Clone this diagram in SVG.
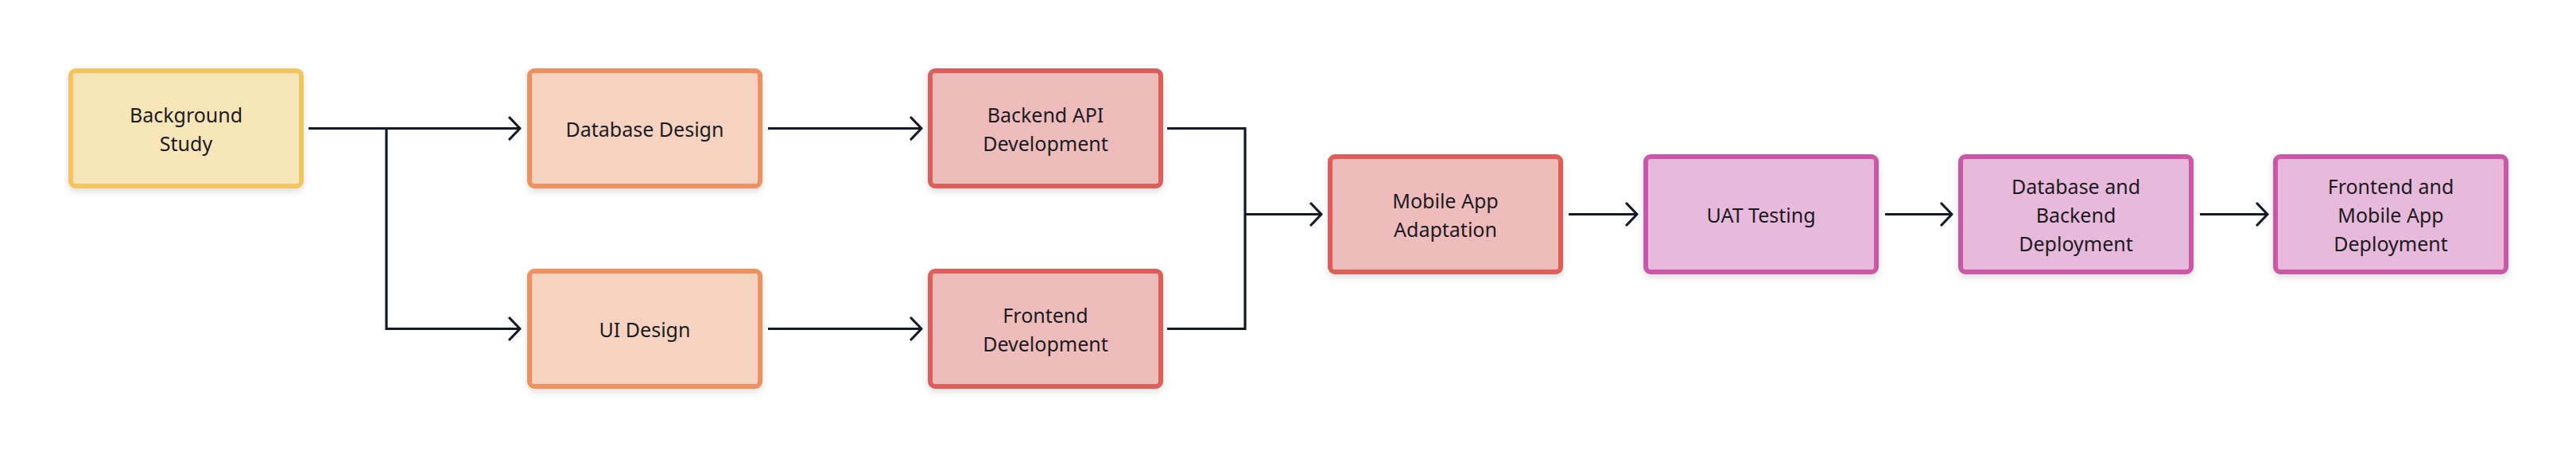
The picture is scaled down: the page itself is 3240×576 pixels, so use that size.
<svg xmlns="http://www.w3.org/2000/svg" width="3240" height="576" viewBox="0 0 3240 576">
<style>
.node rect{stroke-width:6;filter:url(#sh)}
.yellow rect{fill:#F9E6B8;stroke:#F3C55E}
.orange rect{fill:#F6D3C0;stroke:#EE905F}
.red rect{fill:#EFBCBC;stroke:#DE5F5A}
.pink rect{fill:#E7B9DB;stroke:#CB59A7}
.node text{font-family:"Noto Sans","Open Sans","Liberation Sans",sans-serif;font-size:25px;fill:#1B1B1F;text-anchor:middle}
#connectors path{fill:none;stroke:#131A26;stroke-width:3.2}
#connectors path.head{stroke-linecap:round;stroke-linejoin:round}
</style>
<defs>
<filter id="sh" x="-10%" y="-10%" width="120%" height="130%">
<feDropShadow dx="0" dy="4" stdDeviation="4" flood-color="#000" flood-opacity="0.12"/>
</filter>
</defs>
<rect width="3240" height="576" fill="#FFFFFF"/>
<g id="connectors">
<path d="M388 161.5H654M486 161.5V413.5H654"/>
<path class="head" d="M641 148L654 161.5L641 175M641 400L654 413.5L641 427"/>
<path d="M966 161.5H1159M966 413.5H1159"/>
<path class="head" d="M1146 148L1159 161.5L1146 175M1146 400L1159 413.5L1146 427"/>
<path d="M1468 161.5H1566V413.5H1468M1566 269.5H1662"/>
<path class="head" d="M1649 256L1662 269.5L1649 283"/>
<path d="M1973 269.5H2059M2371 269.5H2455M2767 269.5H2852"/>
<path class="head" d="M2046 256L2059 269.5L2046 283M2442 256L2455 269.5L2442 283M2839 256L2852 269.5L2839 283"/>
</g>
<g id="node-background-study" class="node yellow">
<rect x="89" y="89" width="290" height="145" rx="6"/>
<text x="234" y="153.5">Background</text>
<text x="234" y="189.5">Study</text>
</g>
<g id="node-database-design" class="node orange">
<rect x="666" y="89" width="290" height="145" rx="6"/>
<text x="811" y="171.5">Database Design</text>
</g>
<g id="node-ui-design" class="node orange">
<rect x="666" y="341" width="290" height="145" rx="6"/>
<text x="811" y="423.5">UI Design</text>
</g>
<g id="node-backend-api" class="node red">
<rect x="1170" y="89" width="290" height="145" rx="6"/>
<text x="1315" y="153.5">Backend API</text>
<text x="1315" y="189.5">Development</text>
</g>
<g id="node-frontend-dev" class="node red">
<rect x="1170" y="341" width="290" height="145" rx="6"/>
<text x="1315" y="405.5">Frontend</text>
<text x="1315" y="441.5">Development</text>
</g>
<g id="node-mobile-app" class="node red">
<rect x="1673" y="197" width="290" height="145" rx="6"/>
<text x="1818" y="261.5">Mobile App</text>
<text x="1818" y="297.5">Adaptation</text>
</g>
<g id="node-uat" class="node pink">
<rect x="2070" y="197" width="290" height="145" rx="6"/>
<text x="2215" y="279.5">UAT Testing</text>
</g>
<g id="node-db-backend-deploy" class="node pink">
<rect x="2466" y="197" width="290" height="145" rx="6"/>
<text x="2611" y="243.5">Database and</text>
<text x="2611" y="279.5">Backend</text>
<text x="2611" y="315.5">Deployment</text>
</g>
<g id="node-fe-mobile-deploy" class="node pink">
<rect x="2862" y="197" width="290" height="145" rx="6"/>
<text x="3007" y="243.5">Frontend and</text>
<text x="3007" y="279.5">Mobile App</text>
<text x="3007" y="315.5">Deployment</text>
</g>
</svg>
